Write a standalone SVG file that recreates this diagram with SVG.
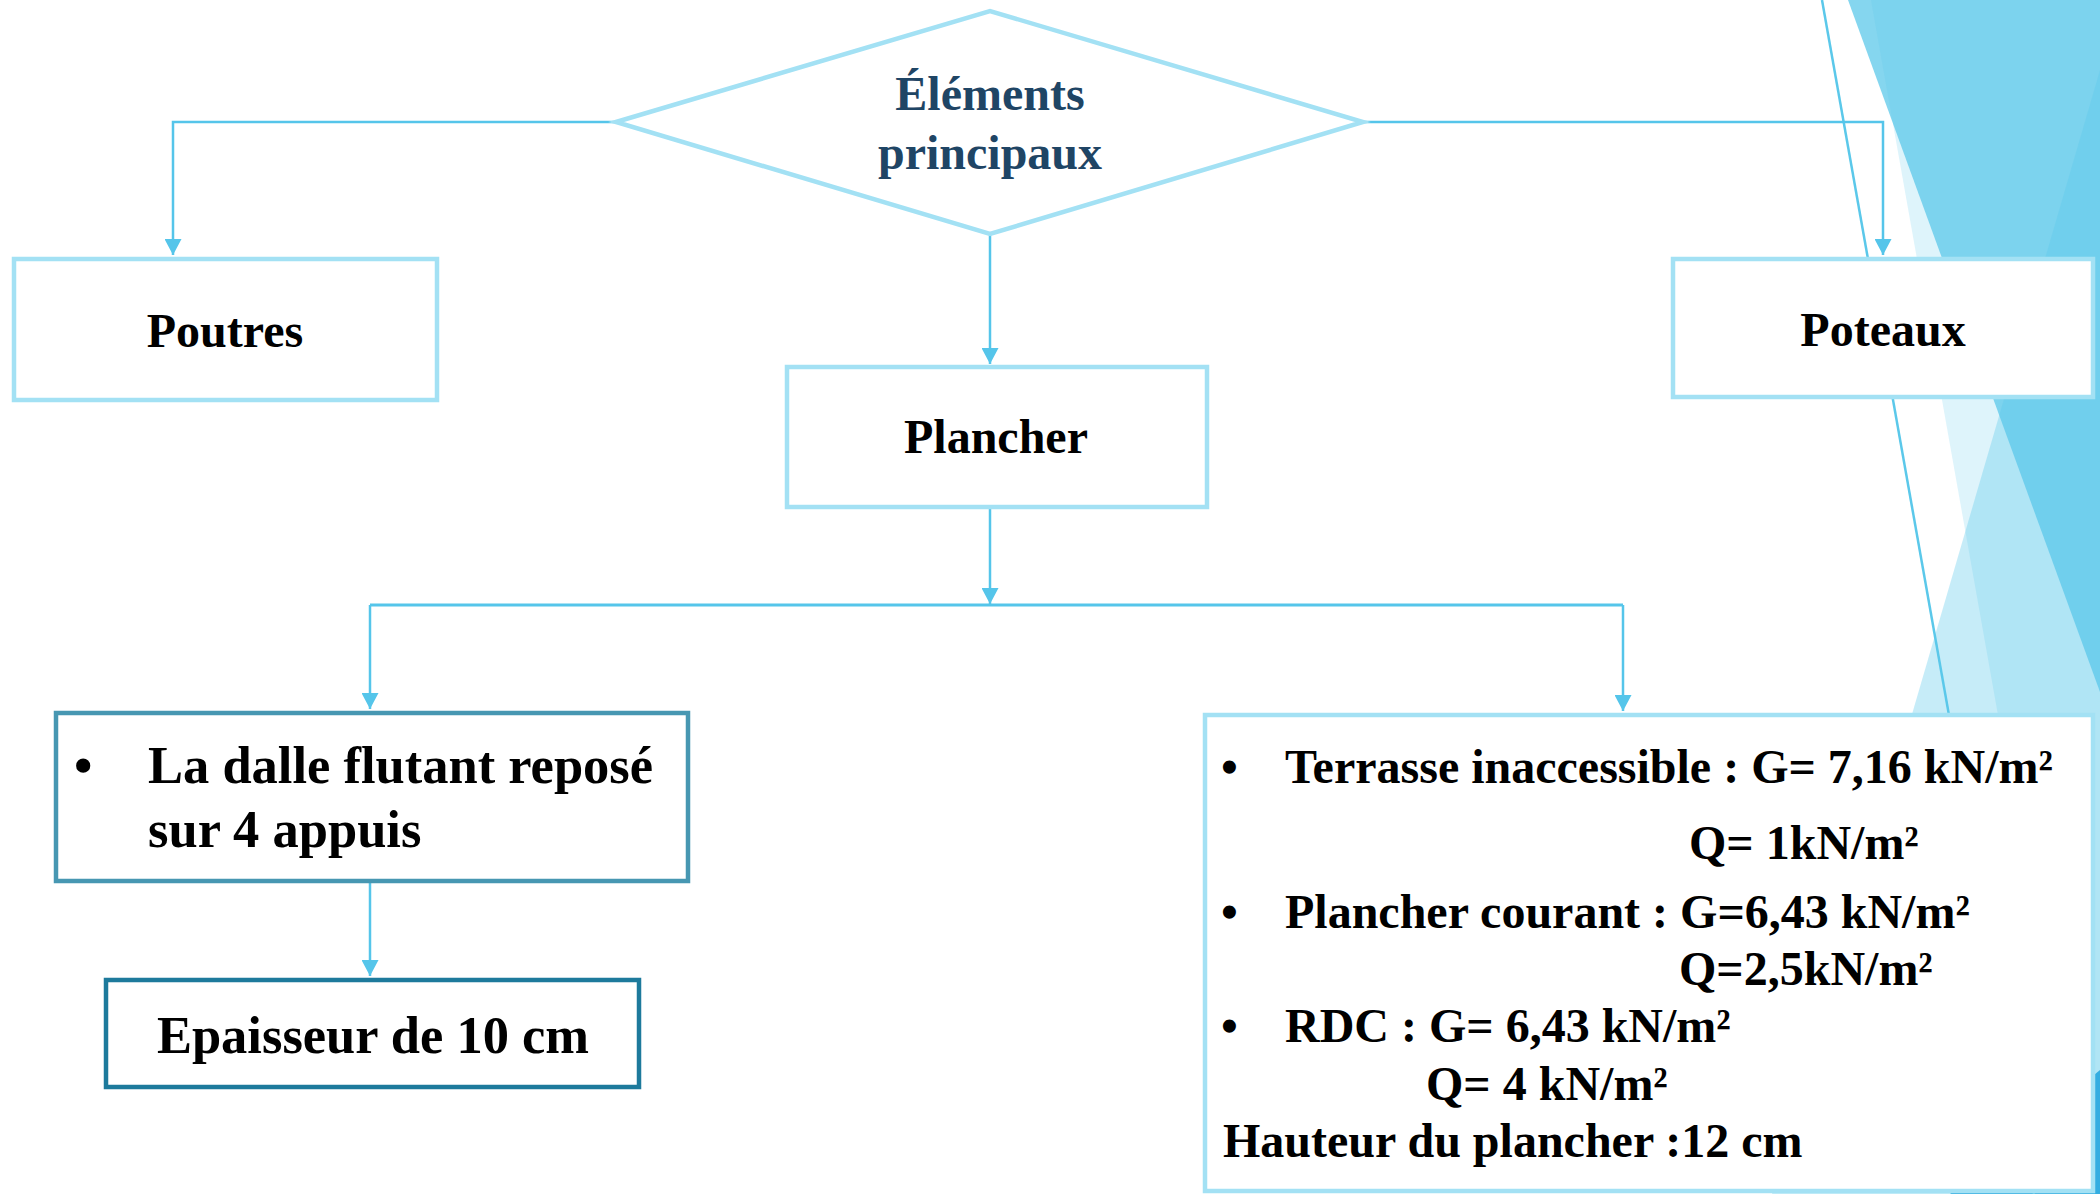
<svg xmlns="http://www.w3.org/2000/svg" width="2100" height="1194" viewBox="0 0 2100 1194">
  <style>
    .bg { fill: #5BC8EA; stroke: none; }
    .node { fill: #FFFFFF; stroke: #A3E1F4; stroke-width: 4.5; }
    .conn { fill: none; stroke: #55C5EA; stroke-width: 2.5; }
    .t { font-family: "Liberation Serif", "Times New Roman", serif; font-weight: bold; fill: #000000; }
    .c { text-anchor: middle; }
    .s48 { font-size: 48px; }
    .s52 { font-size: 52.5px; }
  </style>
  <defs>
    <marker id="arrow" markerUnits="userSpaceOnUse" markerWidth="16" markerHeight="17" viewBox="0 0 16 17" refX="16" refY="8.5" orient="auto">
      <path d="M0,0 L16,8.5 L0,17 z" fill="#55C5EA"/>
    </marker>
  </defs>

  <rect x="0" y="0" width="2100" height="1194" fill="#FFFFFF"/>

  <g id="background">
    <polygon class="bg" points="1848,0 2100,0 2100,692" opacity="0.74"/>
    <polygon class="bg" points="1871,0 2100,0 2100,1194 2083,1194" opacity="0.2"/>
    <polygon class="bg" points="2100,70 2100,1194 1772,1194" opacity="0.35"/>
    <polygon points="2100,1070 2100,1194 1950,1194" fill="#1FA3DD" opacity="0.85"/>
    <line x1="1822" y1="0" x2="2034" y2="1194" stroke="#5BC8EA" stroke-width="2.5"/>
  </g>

  <g id="connectors">
    <path class="conn" d="M616,122 H173 V255" marker-end="url(#arrow)"/>
    <path class="conn" d="M1363,122 H1883 V255" marker-end="url(#arrow)"/>
    <path class="conn" d="M990,234 V364" marker-end="url(#arrow)"/>
    <path class="conn" d="M990,508 V604" marker-end="url(#arrow)"/>
    <path class="conn" d="M370,605 H1623" style="stroke-width:3"/>
    <path class="conn" d="M370,605 V709" marker-end="url(#arrow)"/>
    <path class="conn" d="M1623,605 V711" marker-end="url(#arrow)"/>
    <path class="conn" d="M370,882 V976" marker-end="url(#arrow)"/>
  </g>

  <g id="node-elements">
    <polygon class="node" points="616,122 990,11 1363,122 990,234"/>
    <text class="t c s48" x="990" y="110" style="fill:#1F4565">Éléments</text>
    <text class="t c s48" x="990" y="169" style="fill:#1F4565">principaux</text>
  </g>

  <g id="node-poutres">
    <rect class="node" x="14" y="259" width="423" height="141"/>
    <text class="t c s48" x="225" y="347">Poutres</text>
  </g>

  <g id="node-plancher">
    <rect class="node" x="787" y="367" width="420" height="140"/>
    <text class="t c s48" x="996" y="453">Plancher</text>
  </g>

  <g id="node-poteaux">
    <rect class="node" x="1673" y="259" width="420" height="138"/>
    <text class="t c s48" x="1883" y="346">Poteaux</text>
  </g>

  <g id="node-dalle">
    <rect class="node" x="56" y="713" width="632" height="168" style="stroke:#4797B2"/>
    <text class="t s52" x="74" y="783">•</text>
    <text class="t s52" x="148" y="783">La dalle flutant reposé</text>
    <text class="t s52" x="148" y="847">sur 4 appuis</text>
  </g>

  <g id="node-epaisseur">
    <rect class="node" x="106" y="980" width="533" height="107" style="stroke:#1D7A9C"/>
    <text class="t c s52" x="373" y="1053">Epaisseur de 10 cm</text>
  </g>

  <g id="node-charges">
    <rect class="node" x="1205" y="715" width="888" height="476"/>
    <text class="t s48" x="1221" y="783">•</text>
    <text class="t s48" x="1285" y="783">Terrasse inaccessible : G= 7,16 kN/m²</text>
    <text class="t s48" x="1689" y="859">Q= 1kN/m²</text>
    <text class="t s48" x="1221" y="928">•</text>
    <text class="t s48" x="1285" y="928">Plancher courant : G=6,43 kN/m²</text>
    <text class="t s48" x="1679" y="985">Q=2,5kN/m²</text>
    <text class="t s48" x="1221" y="1042">•</text>
    <text class="t s48" x="1285" y="1042">RDC : G= 6,43 kN/m²</text>
    <text class="t s48" x="1426" y="1100">Q= 4 kN/m²</text>
    <text class="t s48" x="1223" y="1157">Hauteur du plancher :12 cm</text>
  </g>
</svg>
